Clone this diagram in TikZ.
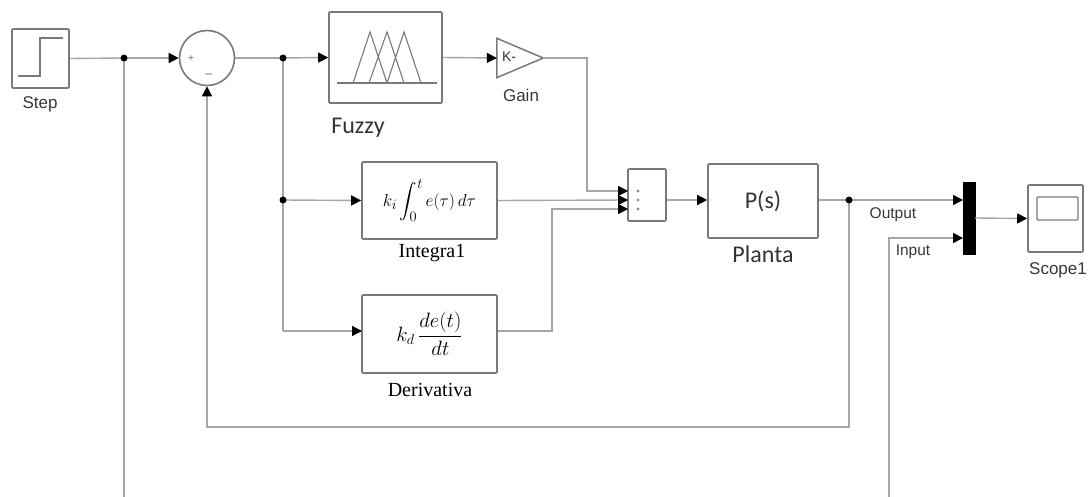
\documentclass[tikz,border=0pt]{standalone}
\usepackage{exscale}
\usepackage{fontspec}
\setmainfont{Liberation Serif}
\newfontfamily\arialf{Liberation Sans}
\newfontfamily\calib{Carlito}
\usetikzlibrary{arrows.meta,calc}
\definecolor{wire}{HTML}{A6A6A6}
\definecolor{edge}{HTML}{7A7A7A}
\begin{document}
\begin{tikzpicture}[x=1pt,y=-1pt,
  wireline/.style={draw=wire,line width=1.4pt},
  arr/.style={wireline,-{Triangle[length=10pt,width=10pt,color=black]}},
  blk/.style={draw=edge,line width=1.6pt,fill=white,rounded corners=1pt,inner sep=0pt},
  jdot/.style={circle,fill=black,inner sep=0pt,minimum size=7pt},
  sanslbl/.style={font=\arialf\fontsize{17}{20}\selectfont,text=black!78},
  siglbl/.style={font=\arialf\fontsize{15.5}{18}\selectfont,text=black!78},
  callbl/.style={font=\calib\fontsize{24}{28}\selectfont,text=black!80},
  serlbl/.style={font=\fontsize{20}{24}\selectfont,text=black}]
\useasboundingbox[fill=white] (0,0) rectangle (1089,497);

% blocks
\node[blk,minimum width=57pt,minimum height=59pt] (step) at (40.5,58.5) {};
\draw[edge,line width=1.3pt] (18,76) -- (40,76) -- (40,38) -- (63,38);
\node[sanslbl] (steplbl) at (40,104) {Step};

\node[draw=edge,line width=1.6pt,circle,minimum size=55pt,inner sep=0pt] (sum) at (207,58) {};
\node[text=black!60,font=\arialf\fontsize{10}{12}\selectfont] (plus) at (191,59) {+};
\node[text=black!60,font=\arialf\fontsize{12}{12}\selectfont] (minus) at (209,76) {\textendash};

\node[blk,minimum width=113pt,minimum height=91pt] (fz) at (385.5,57.5) {};
\draw[edge,line width=1.2pt] (337,83) -- (437,83);
\draw[edge,line width=1.1pt] (353,83) -- (370,32) -- (387,83)
  (369,83) -- (387,32) -- (404,83) (387,83) -- (404,32) -- (421,83);
\node[callbl] (fzlbl) at (358,128) {Fuzzy};

\node[minimum width=46pt,minimum height=39pt,inner sep=0pt] (gain) at (520,58) {};
\draw[edge,line width=1.5pt,fill=white] (gain.north west) -- (gain.east) -- (gain.south west) -- cycle;
\node[font=\arialf\fontsize{14}{16}\selectfont,text=black!80] (ktxt) at (509,57) {K-};
\node[sanslbl] (gainlbl) at (521,95) {Gain};

\node[blk,minimum width=135pt,minimum height=77pt] (int) at (429.5,200.5)
  {\fontsize{19}{23}\selectfont $k_i\displaystyle\int_0^t e(\tau)\,d\tau$};
\node[serlbl] (intlbl) at (432,253) {Integra1};

\node[blk,minimum width=135pt,minimum height=78pt] (der) at (429.5,334)
  {\fontsize{20}{24}\selectfont $k_d\,\displaystyle\frac{de(t)}{dt}$};
\node[serlbl] (derlbl) at (430,390) {Derivativa};

\node[blk,minimum width=38pt,minimum height=52pt] (sumb) at (647,195) {};
\foreach \yy in {191,200,209} \fill[black!45] (638,\yy) circle (1.6pt);

\node[blk,minimum width=110pt,minimum height=74pt,font=\calib\fontsize{24}{28}\selectfont,text=black!80] (pl) at (763,201) {P(s)};
\node[callbl] (pllbl) at (763,254) {Planta};

\node[draw=black,fill=black,minimum width=12pt,minimum height=72pt,inner sep=0pt] (mux) at (969,218) {};

\node[blk,minimum width=55pt,minimum height=67pt] (scope) at (1055.5,218.5) {};
\draw[edge,line width=1.3pt,rounded corners=1pt] (1037,197) rectangle (1078,220);
\node[sanslbl] (scopelbl) at (1058,270) {Scope1};

\node[siglbl] (outlbl) at (893,215) {Output};
\node[siglbl] (inlbl) at (913,252) {Input};

% junction coordinates
\coordinate (j1) at (124,58);
\coordinate (j2) at (283,58);
\coordinate (j3) at (283,200);
\coordinate (j4) at (849,200);
\coordinate (g1) at (587,58);
\coordinate (s1) at (628,191);
\coordinate (s2) at (628,200);
\coordinate (s3) at (628,209);
\coordinate (d1) at (552,331);
\coordinate (dbot) at (283,331);
\coordinate (dl) at (362,331);
\coordinate (fb1) at (849,427);
\coordinate (fb2) at (207,427);
\coordinate (b1) at (124,497);
\coordinate (b2) at (889,497);
\coordinate (m2) at (963,238);
\coordinate (m1) at (963,200);

% wires
\draw[wireline] (step.east) -- (j1);
\draw[arr] (j1) -- (sum.west);
\draw[wireline] (sum.east) -- (j2);
\draw[arr] (j2) -- (fz.west);
\draw[arr] (fz.east) -- (gain.west);
\draw[arr] (gain.east) -- (g1) |- (s1);
\draw[wireline] (j2) -- (j3) -- (dbot);
\draw[arr] (j3) -- (int.west);
\draw[arr] (dbot) -- (dl);
\draw[arr] (int.east) -- (s2);
\draw[arr] (der.east |- d1) -- (d1) |- (s3);
\draw[arr] (sumb.east |- s2) -- (pl.west |- s2);
\draw[wireline] (pl.east |- j4) -- (j4);
\draw[arr] (j4) -- (m1);
\draw[arr] (j4) -- (fb1) -- (fb2) -- (sum.south);
\draw[wireline] (j1) -- (b1);
\draw[arr] (b2) -- (b2 |- m2) -- (m2);
\draw[arr] (mux.east) -- (scope.west);

\node[jdot] (d_j1) at (j1) {};
\node[jdot] (d_j2) at (j2) {};
\node[jdot] (d_j3) at (j3) {};
\node[jdot] (d_j4) at (j4) {};
\end{tikzpicture}
\end{document}
